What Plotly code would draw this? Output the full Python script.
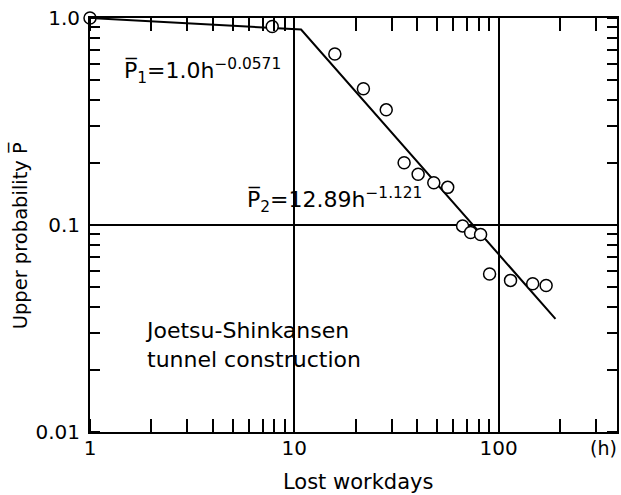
import plotly.graph_objects as go

# observed points (lost workdays h, upper probability P)
lost_h = [1, 7.8, 15.8, 21.8, 28.2, 34.5, 40.4, 48.2, 56.4, 66.7, 73, 81.7, 90.4, 114.5, 147, 171]
p_upper = [1.0, 0.91, 0.67, 0.455, 0.36, 0.2, 0.176, 0.16, 0.152, 0.099, 0.092, 0.09, 0.058, 0.054, 0.052, 0.051]

# fitted broken line
fit_h = [1, 10.8, 190]
fit_p = [1.0, 0.88, 0.0352]

x_ticks = [1, 10, 100]
x_labels = ["1", "10", "100"]
y_ticks = [0.01, 0.1, 1.0]
y_labels = ["0.01", "0.1", "1.0"]

FONT = "DejaVu Sans"

fig = go.Figure()
fig.add_trace(go.Scatter(x=fit_h, y=fit_p, mode="lines",
                         line=dict(color="black", width=2), showlegend=False))
fig.add_trace(go.Scatter(x=lost_h, y=p_upper, mode="markers", cliponaxis=False,
                         marker=dict(symbol="circle", size=12, color="white",
                                     line=dict(color="black", width=1.5)),
                         showlegend=False))

axis_common = dict(
    type="log", showline=True, linecolor="black", linewidth=2, mirror="ticks",
    showgrid=True, gridcolor="black", gridwidth=1.5, zeroline=False,
    ticks="", tickmode="array", ticklabeloverflow="allow",
    tickfont=dict(family=FONT, size=20, color="black"),
)

fig.update_xaxes(**axis_common, range=[0, 2.58], tickvals=x_ticks, ticktext=x_labels,
                 ticklabelstandoff=-3,
                 minor=dict(ticks="inside", ticklen=13, tickwidth=1.5, tickcolor="black",
                            dtick="D1", showgrid=False))
fig.update_yaxes(**axis_common, range=[-2, 0], tickvals=y_ticks, ticktext=y_labels,
                 ticklabelstandoff=4,
                 minor=dict(ticks="inside", ticklen=10, tickwidth=1.5, tickcolor="black",
                            dtick="D1", showgrid=False))

txt = dict(family=FONT, size=22, color="black")
fig.add_annotation(x=0.156, y=-0.256, xref="x", yref="y", xanchor="left", yanchor="middle",
                   text="P\u0305<sub>1</sub>=1.0h<sup>\u22120.0571</sup>", showarrow=False, font=txt)
fig.add_annotation(x=0.758, y=-0.877, xref="x", yref="y", xanchor="left", yanchor="middle",
                   text="P\u0305<sub>2</sub>=12.89h<sup>\u22121.121</sup>", showarrow=False, font=txt)
fig.add_annotation(x=0.259, y=-1.58, xref="x", yref="y", xanchor="left", yanchor="middle",
                   align="left", text="Joetsu-Shinkansen<br>tunnel construction",
                   showarrow=False, font=txt)
fig.add_annotation(x=0.975, y=-0.0386, xref="paper", yref="paper", xanchor="center",
                   yanchor="middle", text="(h)", showarrow=False,
                   font=dict(family=FONT, size=19, color="black"))
fig.add_annotation(x=0.508, y=-0.121, xref="paper", yref="paper", xanchor="center",
                   yanchor="middle", text="Lost workdays", showarrow=False,
                   font=dict(family=FONT, size=21, color="black"))
fig.add_annotation(x=-0.132, y=0.476, xref="paper", yref="paper", xanchor="center",
                   yanchor="middle", textangle=-90, text="Upper probability P\u0305",
                   showarrow=False, font=dict(family=FONT, size=19.5, color="black"))

fig.update_layout(width=621, height=495, margin=dict(l=90, r=2, t=18, b=63),
                  paper_bgcolor="white", plot_bgcolor="white")

# drop the default 8px body margin so the figure sits at the window's corner
fig.write_html("out.html", config={"displayModeBar": False},
               post_script="document.body.style.margin='0';document.body.style.overflow='hidden';")
